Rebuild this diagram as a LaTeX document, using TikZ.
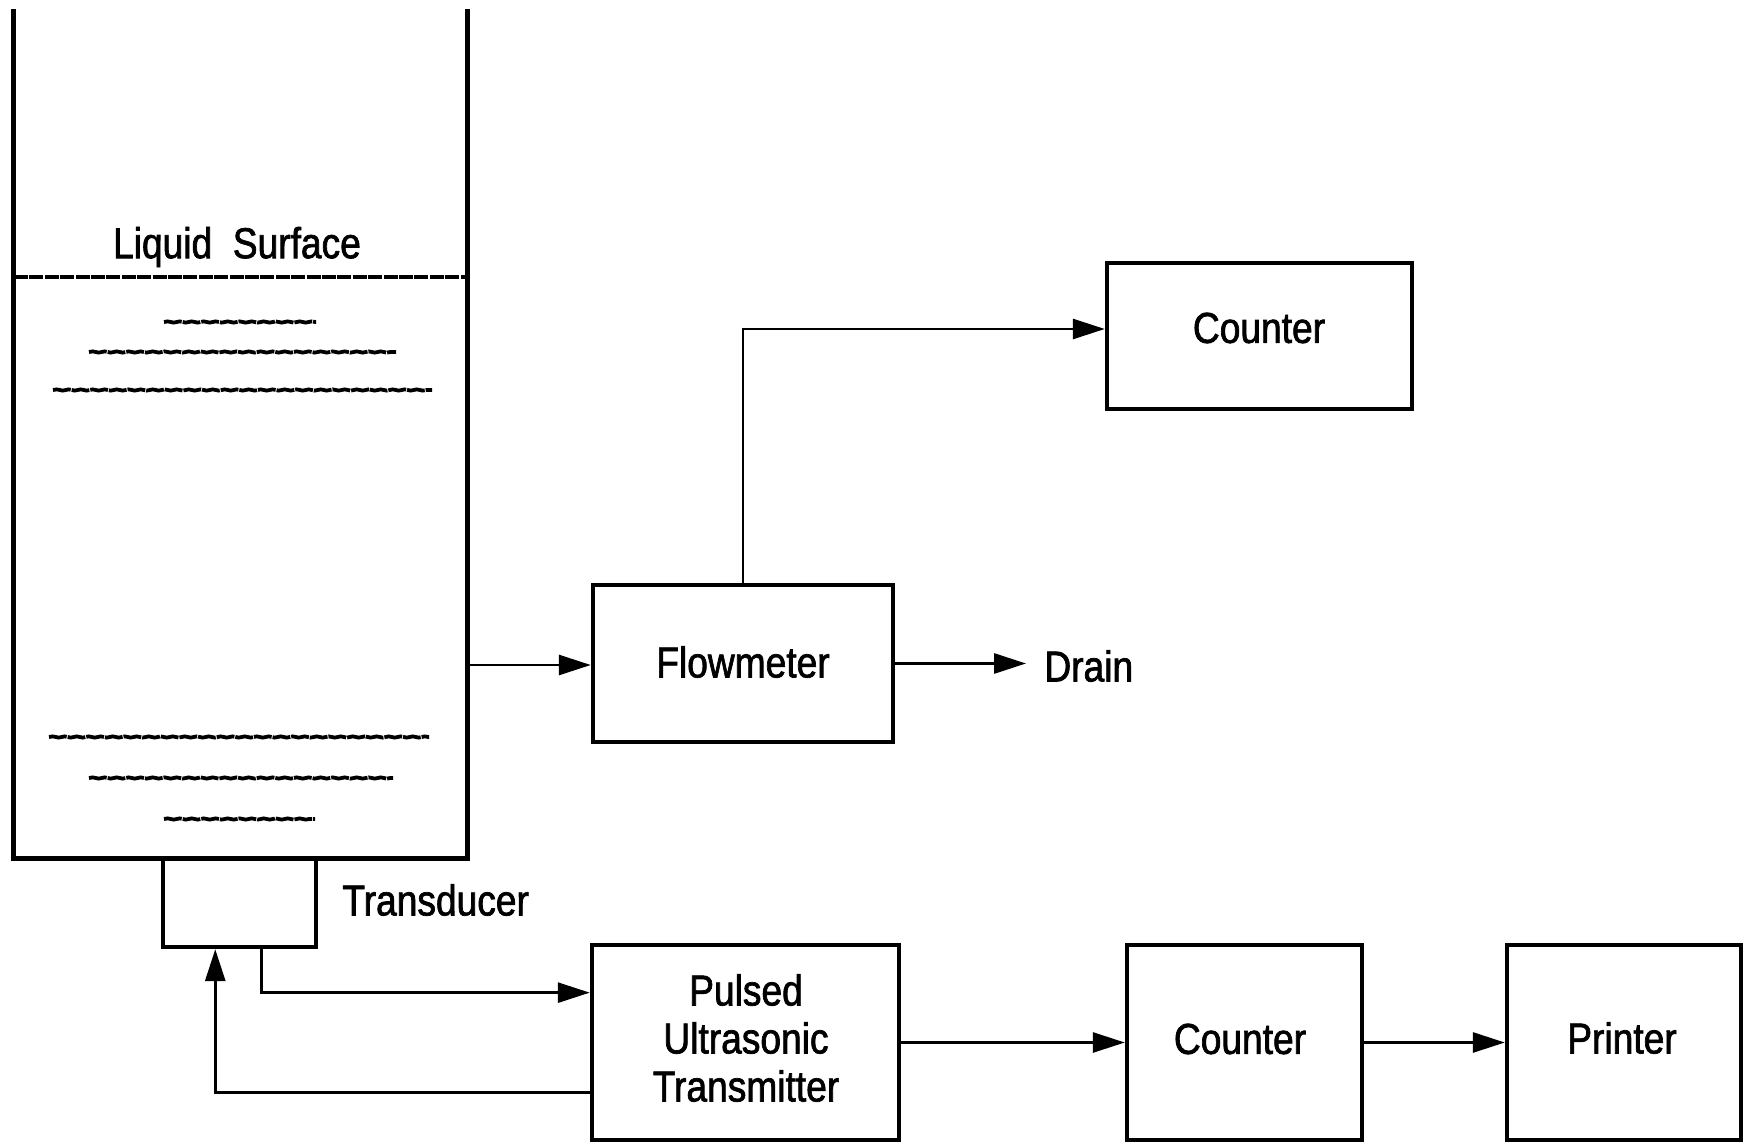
\documentclass[tikz,border=0pt]{standalone}
\usepackage{fontspec}
\setmainfont[FakeStretch=0.86,FakeBold=1.6]{Liberation Sans}
\usetikzlibrary{arrows.meta,calc,decorations.pathmorphing}
\begin{document}
\begin{tikzpicture}[x=0.5pt,y=-0.5pt,
  every node/.style={font=\fontsize{21.6}{24}\selectfont},
  blk/.style={draw,line width=2.2pt,inner sep=0pt},
  wall/.style={line width=2.5pt,line join=miter},
  conn/.style={line width=1.4pt},
  arr/.style={conn,-{Triangle[length=16pt,width=10pt]}},
  wave/.style={line width=1.9pt,decorate,decoration={snake,segment length=6pt,amplitude=0.3pt},dash pattern=on 9pt off 0.5pt}]
\useasboundingbox (0,0) rectangle (1752,1144);
% tank
\draw[wall] (13,9) -- (13,858) -- (467,858) -- (467,9);
\draw[line width=1.7pt,dash pattern=on 7pt off 0.7pt] (14,277) -- (466,277);
\node (liq) at (237,247) {Liquid\ \ Surface};
\draw[wave] (164,322) -- (316,322);
\draw[wave] (89,352) -- (396,352);
\draw[wave] (53,390) -- (432,390);
\draw[wave] (49,737) -- (429,737);
\draw[wave] (89,778) -- (393,778);
\draw[wave] (164,819) -- (315,819);
\coordinate (tankout) at (467,665);
% blocks
\node[blk,minimum width=76.5pt,minimum height=44.5pt] (xdcr) at (239.5,902.5) {};
\node[anchor=west,inner sep=0pt] (xlab) at (342,900) {Transducer};
\node[blk,minimum width=150pt,minimum height=78.5pt] (flow) at (743,663.5) {};
\node (flowlab) at (743,662) {Flowmeter};
\node[blk,minimum width=152.5pt,minimum height=73pt] (ctop) at (1259.5,336) {};
\node (ctoplab) at (1259,328) {Counter};
\node[anchor=west,inner sep=9pt] (drain) at (1026,666) {Drain};
\node[blk,minimum width=153.5pt,minimum height=97.5pt] (trans) at (745.5,1042.5) {};
\node[align=center] (translab) at (746,1038) {Pulsed\\Ultrasonic\\Transmitter};
\node[blk,minimum width=117.5pt,minimum height=97.5pt] (cbot) at (1244.5,1042.5) {};
\node (cbotlab) at (1240,1039) {Counter};
\node[blk,minimum width=117pt,minimum height=97.5pt] (prn) at (1624,1042.5) {};
\node (prnlab) at (1622,1038) {Printer};
% connectors
\draw[arr] (tankout) -- (tankout -| flow.west);
\draw[arr] (flow.north) |- ($(ctop.west)+(0,-7)$);
\draw[arr] (flow.east) -- (flow.east -| drain.west);
\coordinate (xo) at ($(xdcr.south west)!0.64!(xdcr.south east)$);
\coordinate (xi) at ($(xdcr.south west)!0.346!(xdcr.south east)$);
\draw[arr] (xo) |- ($(trans.north west)!0.25!(trans.south west)$);
\draw[arr] ($(trans.north west)!0.75!(trans.south west)$) -| (xi);
\draw[arr] (trans.east) -- (cbot.west);
\draw[arr] (cbot.east) -- (prn.west);
\end{tikzpicture}
\end{document}
